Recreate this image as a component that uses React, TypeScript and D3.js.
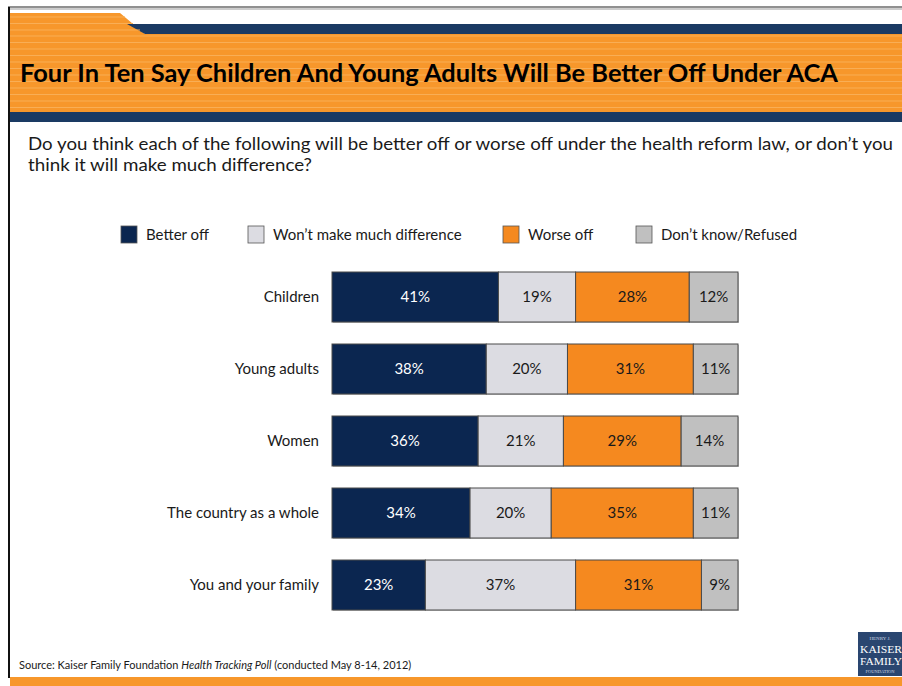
import React from "react";
import * as d3 from "d3";

const categories = ["Children", "Young adults", "Women", "The country as a whole", "You and your family"];
const seriesNames = ["Better off", "Won\u2019t make much difference", "Worse off", "Don\u2019t know/Refused"];
const betterOff = [41, 38, 36, 34, 23];
const noDifference = [19, 20, 21, 20, 37];
const worseOff = [28, 31, 29, 35, 31];
const dontKnow = [12, 11, 14, 11, 9];
const colors = ["#0b2650", "#dcdce2", "#f5891f", "#c0c0c0"];
const textColors = ["#ffffff", "#1a1a1a", "#1a1a1a", "#1a1a1a"];
const legendX = [121, 248, 503, 636];

const W = 902;
const H = 686;
const FONT = "Lato, 'Open Sans', sans-serif";

export default function App() {
  const rows = categories.map((c, i) => ({
    cat: c,
    s0: betterOff[i],
    s1: noDifference[i],
    s2: worseOff[i],
    s3: dontKnow[i],
  }));
  const keys = ["s0", "s1", "s2", "s3"];
  const stacked = d3.stack<any>().keys(keys)(rows);
  const x = d3.scaleLinear().domain([0, 100]).range([332, 738]);
  const y = d3
    .scaleBand<string>()
    .domain(categories)
    .range([261, 621])
    .paddingInner(0.3056)
    .paddingOuter(0.1528);

  const stripes = d3.range(36, 112, 6.5);

  return (
    <svg
      width={W}
      height={H}
      viewBox={`0 0 ${W} ${H}`}
      style={{ position: "fixed", left: 0, top: 0, background: "#fff" }}
    >
      {/* frame */}
      <rect x={0} y={0} width={W} height={H} fill="#ffffff" />
      <line x1={8} x2={W} y1={7} y2={7} stroke="#222" strokeWidth={1.2} />
      <line x1={8} x2={W} y1={9} y2={9} stroke="#999" strokeWidth={1} />
      <line x1={9} x2={9} y1={7} y2={678} stroke="#111" strokeWidth={2} />

      {/* header */}
      <polygon points={`10,13 120,13 145,34 ${W},34 ${W},112 10,112`} fill="#f7972b" />
      <polygon points={`127,24 ${W},24 ${W},34 145,34`} fill="#1a3a63" />
      {stripes.map((s, i) => (
        <line key={i} x1={10} x2={W} y1={s} y2={s} stroke="#f9ae55" strokeWidth={1} />
      ))}
      <line x1={10} x2={125} y1={17} y2={17} stroke="#f9ae55" strokeWidth={1} />
      <line x1={10} x2={133} y1={23.5} y2={23.5} stroke="#f9ae55" strokeWidth={1} />
      <line x1={10} x2={140} y1={30} y2={30} stroke="#f9ae55" strokeWidth={1} />
      <rect x={10} y={112} width={W - 10} height={10} fill="#1a3a63" />
      <text
        x={20}
        y={82}
        fontFamily={FONT}
        fontWeight={700}
        fontSize={24}
        fill="#000"
        textLength={818}
        lengthAdjust="spacingAndGlyphs"
      >
        Four In Ten Say Children And Young Adults Will Be Better Off Under ACA
      </text>

      {/* question */}
      <text x={28} y={150} fontFamily={FONT} fontSize={16.5} fill="#1a1a1a" textLength={865} lengthAdjust="spacingAndGlyphs">
        Do you think each of the following will be better off or worse off under the health reform law, or don’t you
      </text>
      <text x={28} y={171} fontFamily={FONT} fontSize={16.5} fill="#1a1a1a" textLength={284} lengthAdjust="spacingAndGlyphs">
        think it will make much difference?
      </text>

      {/* legend */}
      {seriesNames.map((n, i) => (
        <g key={n}>
          <rect x={legendX[i]} y={226} width={16} height={17} fill={colors[i]} stroke="#555" strokeWidth={0.8} />
          <text x={legendX[i] + 25} y={239.5} fontFamily={FONT} fontSize={15} fill="#1a1a1a">
            {n}
          </text>
        </g>
      ))}

      {/* category labels */}
      {categories.map((c) => (
        <text
          key={c}
          x={319}
          y={(y(c) as number) + y.bandwidth() / 2 + 5}
          textAnchor="end"
          fontFamily={FONT}
          fontSize={15}
          fill="#1a1a1a"
        >
          {c}
        </text>
      ))}

      {/* bars */}
      {stacked.map((layer, si) => (
        <g key={si}>
          {layer.map((d: any, i: number) => {
            const x0 = x(d[0]);
            const x1 = x(d[1]);
            const yy = y(d.data.cat) as number;
            return (
              <g key={i}>
                <rect x={x0 + 1} y={yy + 1} width={x1 - x0} height={y.bandwidth()} fill="#8a8a8a" opacity={0.5} />
                <rect x={x0} y={yy} width={x1 - x0} height={y.bandwidth()} fill={colors[si]} stroke="#4a4a4a" strokeWidth={1} />
                <text
                  x={(x0 + x1) / 2}
                  y={yy + y.bandwidth() / 2 + 5}
                  textAnchor="middle"
                  fontFamily={FONT}
                  fontSize={15}
                  fill={textColors[si]}
                >
                  {`${d[1] - d[0]}%`}
                </text>
              </g>
            );
          })}
        </g>
      ))}

      {/* source */}
      <text x={19} y={669} fontFamily={FONT} fontSize={11} fill="#1a1a1a">
        Source: Kaiser Family Foundation <tspan fontStyle="italic">Health Tracking Poll</tspan> (conducted May 8-14, 2012)
      </text>

      {/* logo */}
      <rect x={858} y={632} width={44} height={44} fill="#2a4670" />
      <text x={880} y={640} textAnchor="middle" fontFamily="'Liberation Serif', serif" fontSize={5} fill="#cfd6e2">
        HENRY J.
      </text>
      <text x={881} y={653} textAnchor="middle" fontFamily="'Liberation Serif', serif" fontSize={11} fill="#fff" textLength={42} lengthAdjust="spacingAndGlyphs">
        KAISER
      </text>
      <text x={881} y={665} textAnchor="middle" fontFamily="'Liberation Serif', serif" fontSize={11} fill="#fff" textLength={42} lengthAdjust="spacingAndGlyphs">
        FAMILY
      </text>
      <text x={880} y={673} textAnchor="middle" fontFamily="'Liberation Serif', serif" fontSize={4.5} fill="#cfd6e2">
        FOUNDATION
      </text>

      {/* bottom band */}
      <rect x={10} y={677} width={W - 10} height={9} fill="#f7972b" />
    </svg>
  );
}
